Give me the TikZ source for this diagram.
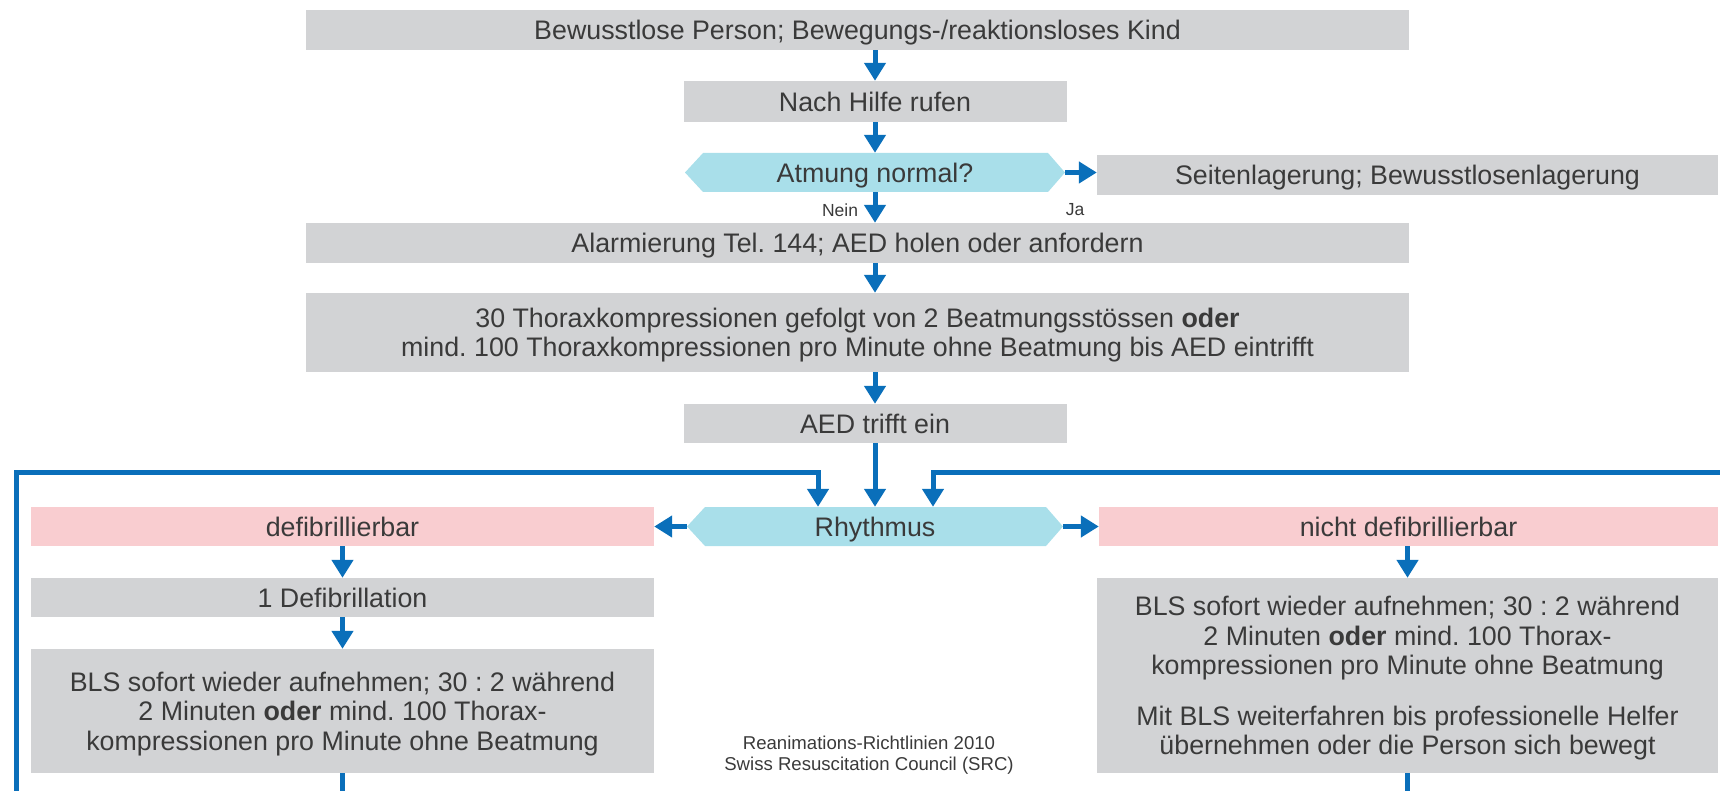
\documentclass[tikz,border=0pt]{standalone}
\usepackage{fontspec}
\setmainfont{Liberation Sans}
\usetikzlibrary{arrows.meta,calc}
\frenchspacing
\definecolor{boxgray}{HTML}{D2D3D5}
\definecolor{boxpink}{HTML}{F9CDD0}
\definecolor{hexblue}{HTML}{A9DFEA}
\definecolor{arrblue}{HTML}{0A6FBA}
\definecolor{txt}{HTML}{3A3A3A}
\newcommand{\mainfs}{\fontsize{26.8}{29.5}\selectfont}
\newcommand{\smallfs}{\fontsize{17.5}{18}\selectfont}
\newcommand{\footfs}{\fontsize{18.6}{21}\selectfont}
\tikzset{
  x=1pt, y=-1pt,
  box/.style={fill=boxgray, inner sep=0pt, text=txt, font=\mainfs, align=center, text depth=0pt},
  pinkbox/.style={fill=boxpink, inner sep=0pt, text=txt, font=\mainfs, align=center, text depth=0pt},
  hexnode/.style={inner sep=0pt, text=txt, font=\mainfs, text depth=0pt,
    path picture={\fill[hexblue] (path picture bounding box.west)
      -- ([xshift=18pt]path picture bounding box.north west)
      -- ([xshift=-17pt]path picture bounding box.north east)
      -- (path picture bounding box.east)
      -- ([xshift=-17pt]path picture bounding box.south east)
      -- ([xshift=18pt]path picture bounding box.south west) -- cycle;}},
  arr/.style={draw=arrblue, line width=5pt, -{Triangle[width=21pt,length=18pt]}},
  flow/.style={draw=arrblue, line width=5pt},
  lbl/.style={text=txt, font=\smallfs, inner sep=0pt},
  foot/.style={text=txt, font=\footfs, inner sep=0pt, align=center}
}
\begin{document}
\begin{tikzpicture}
\useasboundingbox (0,0) rectangle (1720,791);
% nodes
\node[box, minimum width=1103, minimum height=40] (b1) at (857.5,30) {Bewusstlose Person; Bewegungs-/reaktionsloses Kind};
\node[box, minimum width=383, minimum height=41] (b2) at (875,101.5) {Nach Hilfe rufen};
\node[hexnode, minimum width=380, minimum height=39] (atm) at (875,172.5) {Atmung normal?};
\node[box, minimum width=621, minimum height=40] (seit) at (1407.5,175) {Seitenlagerung; Bewusstlosenlagerung};
\node[box, minimum width=1103, minimum height=40] (alarm) at (857.5,243) {Alarmierung Tel. 144; AED holen oder anfordern};
\node[box, minimum width=1103, minimum height=79] (thorax) at (857.5,332.5) {30 Thoraxkompressionen gefolgt von 2 Beatmungsst\"ossen \textbf{oder}\\mind. 100 Thoraxkompressionen pro Minute ohne Beatmung bis AED eintrifft};
\node[box, minimum width=383, minimum height=39] (aed) at (875,423.5) {AED trifft ein};
\node[hexnode, minimum width=376, minimum height=39] (rhy) at (875,526.5) {Rhythmus};
\node[pinkbox, minimum width=623, minimum height=39] (defib) at (342.5,526.5) {defibrillierbar};
\node[pinkbox, minimum width=619, minimum height=39] (ndefib) at (1408.5,526.5) {nicht defibrillierbar};
\node[box, minimum width=623, minimum height=39] (def1) at (342.5,597.5) {1 Defibrillation};
\node[box, minimum width=623, minimum height=124] (blsL) at (342.5,711) {BLS sofort wieder aufnehmen; 30 : 2 w\"ahrend\\2 Minuten \textbf{oder} mind. 100 Thorax-\\kompressionen pro Minute ohne Beatmung};
\node[box, minimum width=621, minimum height=195] (blsR) at (1407.5,675.5) {BLS sofort wieder aufnehmen; 30 : 2 w\"ahrend\\2 Minuten \textbf{oder} mind. 100 Thorax-\\kompressionen pro Minute ohne Beatmung\\[21pt]Mit BLS weiterfahren bis professionelle Helfer\\\"ubernehmen oder die Person sich bewegt};
\node[lbl] (nein) at (840,210) {Nein};
\node[lbl] (ja) at (1075,210) {Ja};
\node[foot] (src) at (869,755) {Reanimations-Richtlinien 2010\\Swiss Resuscitation Council (SRC)};
% loop coordinates
\coordinate (lbot) at (16,791);
\coordinate (ltop) at (16,472);
\coordinate (rtop) at (1720,472);
\coordinate (lin) at ([xshift=-57pt]rhy.north);
\coordinate (rin) at ([xshift=58pt]rhy.north);
\coordinate (blsLend) at (blsL.south |- lbot);
\coordinate (blsRend) at (blsR.south |- lbot);
% connectors
\draw[arr] (b1.south -| b2.north) -- (b2.north);
\draw[arr] (b2.south) -- (atm.north);
\draw[arr] (atm.east) -- (atm.east -| seit.west);
\draw[arr] (atm.south) -- (atm.south |- alarm.north);
\draw[arr] (alarm.south -| aed.north) -- (thorax.north -| aed.north);
\draw[arr] (thorax.south -| aed.north) -- (aed.north);
\draw[arr] (aed.south) -- (rhy.north);
\draw[arr] (lbot) -- (ltop) -| (lin);
\draw[arr] (rtop) -| (rin);
\draw[arr] (rhy.west) -- (defib.east);
\draw[arr] (rhy.east) -- (ndefib.west);
\draw[arr] (defib.south) -- (def1.north);
\draw[arr] (def1.south) -- (blsL.north);
\draw[arr] (ndefib.south -| blsR.north) -- (blsR.north);
\draw[flow] (blsL.south) -- (blsLend);
\draw[flow] (blsR.south) -- (blsRend);
\end{tikzpicture}
\end{document}
